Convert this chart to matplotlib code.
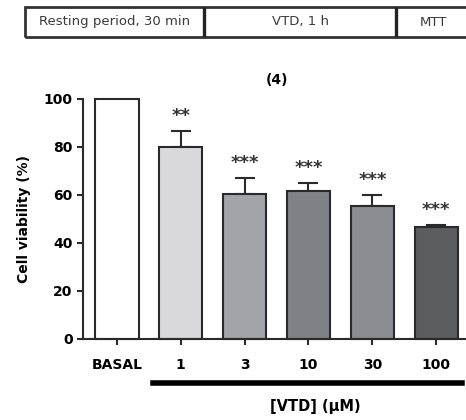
import numpy as np
import matplotlib
matplotlib.use("Agg")
from matplotlib import pyplot as plt

plt.rcParams['font.family'] = ['DejaVu Sans']

groups = ["BASAL", "1", "3", "10", "30", "100"]
viability = [100, 80.2, 60.6, 61.7, 55.6, 46.6]
sem = [0, 6.5, 6.4, 3.5, 4.6, 0.9]
stars = ["", "**", "***", "***", "***", "***"]
colors = ["#ffffff", "#d9d9dd", "#a2a4aa", "#7f8187", "#8b8d93", "#5b5d61"]
phases = ["Resting period, 30 min", "VTD, 1 h", "MTT"]

fig = plt.figure(figsize=(4.66, 4.2), dpi=100)

# protocol timeline on top
tl = fig.add_axes([25/466, 1-37/420, 445/466, 30/420])
tl.set_xlim(0, 445)
tl.set_ylim(0, 1)
tl.axis("off")
edges = [0, 179, 371, 445]
tl.add_patch(plt.Rectangle((0, 0), 445, 1, fill=False, lw=2, ec="#333333", clip_on=False))
for e in edges[1:-1]:
    tl.plot([e, e], [0, 1], color="#222222", lw=2.4)
for i, p in enumerate(phases):
    tl.text((edges[i]+edges[i+1])/2, 0.5, p, ha="center", va="center", fontsize=9.5, color="#3a3a3a")

ax = fig.add_axes([83/466, 1-339/420, 382/466, 240/420])
x = np.arange(len(groups))
ax.bar(x, viability, width=0.68, color=colors, edgecolor="#2a2a2a", linewidth=1.5, zorder=2, clip_on=False)
ax.errorbar(x[1:], viability[1:], yerr=[np.zeros(5), sem[1:]], fmt="none", ecolor="#2a2a2a",
            elinewidth=1.5, capsize=7, capthick=1.5, zorder=1)
for xi, v, s, st in zip(x, viability, sem, stars):
    if st:
        ax.text(xi, v + s + 2.5, st, ha="center", va="bottom", fontsize=13, fontweight="bold", color="#333333")

ax.set_xlim(-0.53, 5.45)
ax.set_ylim(0, 100)
ax.set_yticks([0, 20, 40, 60, 80, 100])
ax.set_xticks(x)
ax.set_xticklabels(groups, fontweight="bold", fontsize=10)
for lab in ax.get_yticklabels():
    lab.set_fontweight("bold")
    lab.set_fontsize(10)
ax.tick_params(axis="both", direction="out", width=1.5, length=4, color="#2a2a2a")
ax.tick_params(axis="x", pad=10)
for side in ["top", "right"]:
    ax.spines[side].set_visible(False)
for side in ["left", "bottom"]:
    ax.spines[side].set_linewidth(1.5)
    ax.spines[side].set_color("#2a2a2a")
ax.set_ylabel("Cell viability (%)", fontweight="bold", fontsize=10, labelpad=9)

fig.text(277/466, 1-80/420, "(4)", ha="center", va="center", fontsize=10, fontweight="bold")

# treatment bar under the concentrations
fig.add_artist(plt.Line2D([153/466, 462/466], [1-383/420, 1-383/420], color="black", lw=4))
fig.text(315/466, 1-407/420, "[VTD] (\u03bcM)", ha="center", va="center", fontsize=10.5, fontweight="bold")

fig.savefig("out.png", dpi=100)
